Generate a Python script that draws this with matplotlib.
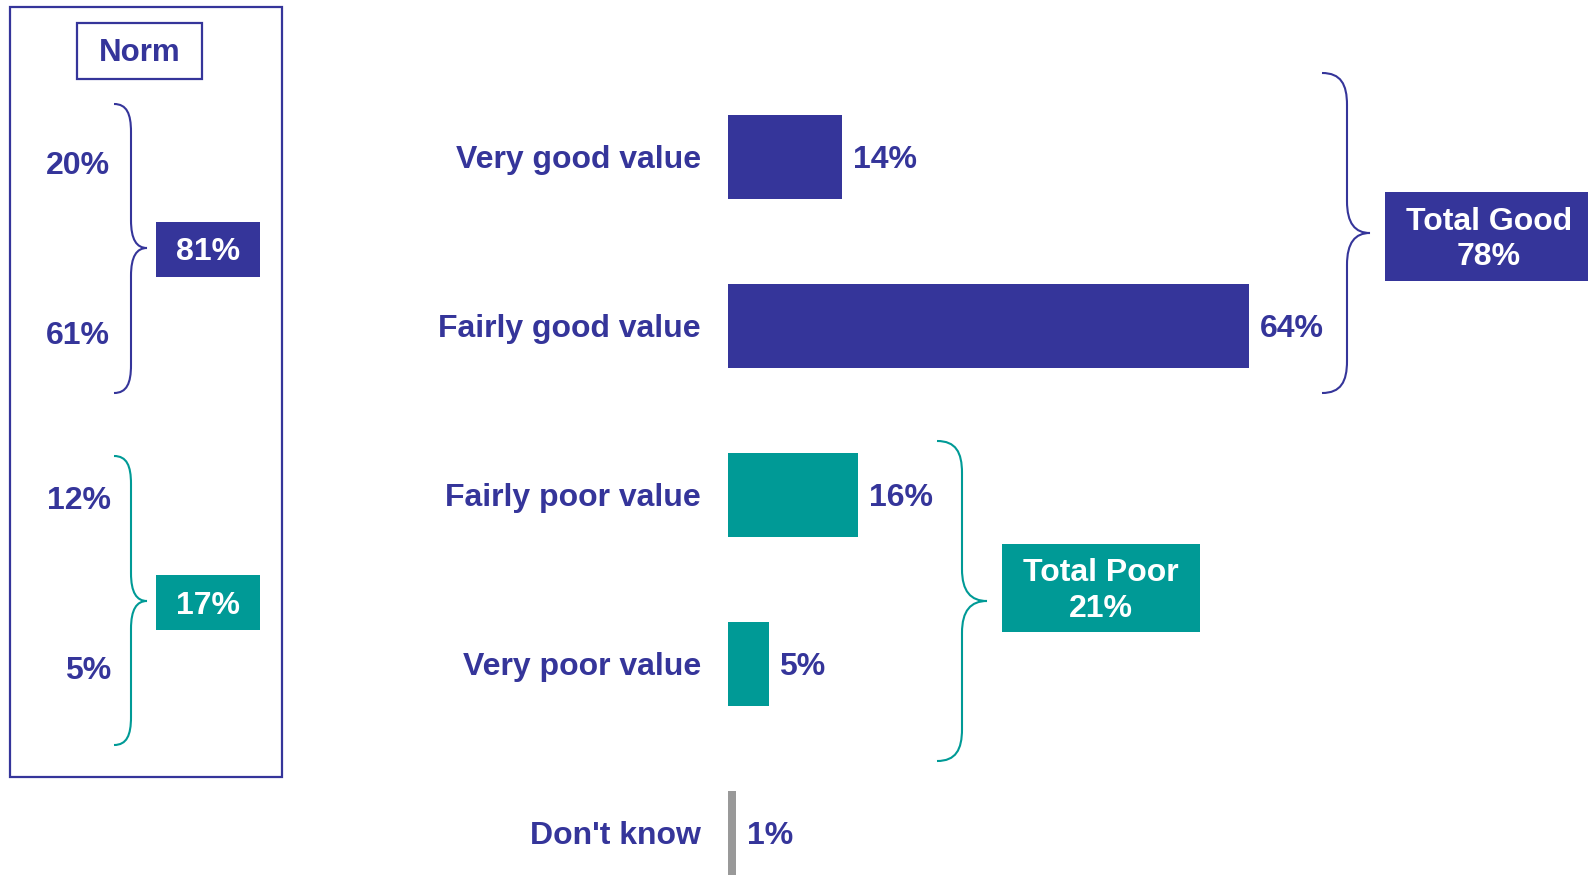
import matplotlib
matplotlib.use('Agg')
import matplotlib.pyplot as plt
from matplotlib.path import Path
from matplotlib.patches import PathPatch, Rectangle

plt.rcParams['font.family'] = ['Liberation Sans', 'DejaVu Sans']
plt.rcParams['font.weight'] = 'bold'

NAVY = '#35359a'
TEAL = '#009a96'
GREY = '#999999'

# data
categories = ['Very good value', 'Fairly good value', 'Fairly poor value',
              'Very poor value', "Don't know"]
values = [14, 64, 16, 5, 1]
bar_colors = [NAVY, NAVY, TEAL, TEAL, GREY]
total_good = 78
total_poor = 21
norm_good = [20, 61]
norm_good_total = 81
norm_poor = [12, 5]
norm_poor_total = 17

W, H = 1588, 875
FS = 23
PX = 8.14  # pixels per percent
fig = plt.figure(figsize=(W / 100, H / 100), dpi=100)

# bar axes
ax = fig.add_axes([728 / W, 0, (W - 728) / W, 1])
ax.barh(range(len(values)), values, height=0.5, color=bar_colors)
ax.set_xlim(0, (W - 728) / PX)
ax.set_ylim(4.249, -0.929)
for s in ax.spines.values():
    s.set_visible(False)
ax.set_xticks([])
ax.set_yticks([])
dy = -0.5 / 169
for i, (c, v) in enumerate(zip(categories, values)):
    ax.text(-27 / PX, i + dy, c, va='center_baseline', ha='right',
            fontsize=FS, fontweight='bold', color=NAVY, clip_on=False)
    ax.text(v + 1.3, i + dy, f'{v}%', va='center_baseline', ha='left',
            fontsize=FS, fontweight='bold', color=NAVY)

# overlay in pixel coords for boxes and braces
ov = fig.add_axes([0, 0, 1, 1])
ov.set_xlim(0, W)
ov.set_ylim(H, 0)
ov.axis('off')


def brace(x0, x1, x2, yt, yb, ym, color, r=30):
    verts = [(x0, yt),
             (x0 + (x1 - x0) * 0.75, yt), (x1, yt + r * 0.35), (x1, yt + r),
             (x1, ym - r),
             (x1, ym - r * 0.3), (x1 + (x2 - x1) * 0.35, ym), (x2, ym),
             (x1 + (x2 - x1) * 0.35, ym), (x1, ym + r * 0.3), (x1, ym + r),
             (x1, yb - r),
             (x1, yb - r * 0.35), (x0 + (x1 - x0) * 0.75, yb), (x0, yb)]
    codes = [Path.MOVETO,
             Path.CURVE4, Path.CURVE4, Path.CURVE4,
             Path.LINETO,
             Path.CURVE4, Path.CURVE4, Path.CURVE4,
             Path.CURVE4, Path.CURVE4, Path.CURVE4,
             Path.LINETO,
             Path.CURVE4, Path.CURVE4, Path.CURVE4]
    ov.add_patch(PathPatch(Path(verts, codes), fill=False, ec=color, lw=1.5))


def box(x0, y0, x1, y1, color, text):
    ov.add_patch(Rectangle((x0, y0), x1 - x0, y1 - y0, fc=color, ec='none'))
    ov.text((x0 + x1) / 2, (y0 + y1) / 2 + 3, text, ha='center', va='center',
            multialignment='center', linespacing=1.25,
            fontsize=FS, fontweight='bold', color='white')


# norm panel
ov.add_patch(Rectangle((10, 7), 272, 770, fill=False, ec=NAVY, lw=1.6))
ov.add_patch(Rectangle((77, 23), 125, 56, fill=False, ec=NAVY, lw=1.6))
ov.text(139.5, 53, 'Norm', ha='center', va='center', fontsize=22.5,
        fontweight='bold', color=NAVY)

brace(114, 131, 147, 104, 393, 248, NAVY, r=28)
brace(114, 131, 147, 456, 745, 601, TEAL, r=28)
for y, v in zip([166, 336], norm_good):
    ov.text(110, y, f'{v}%', ha='right', va='center', fontsize=FS,
            fontweight='bold', color=NAVY)
for y, v in zip([501, 671], norm_poor):
    ov.text(111, y, f'{v}%', ha='right', va='center', fontsize=FS,
            fontweight='bold', color=NAVY)
box(156, 222, 260, 277, NAVY, f'{norm_good_total}%')
box(156, 575, 260, 630, TEAL, f'{norm_poor_total}%')

# totals
brace(1322, 1347, 1370, 73, 393, 233, NAVY, r=32)
box(1385, 192, W + 5, 281, NAVY, f'Total Good\n{total_good}%')
brace(937, 962, 987, 441, 761, 601, TEAL, r=32)
box(1002, 544, 1200, 632, TEAL, f'Total Poor\n{total_poor}%')

fig.savefig('out.png', dpi=100)
